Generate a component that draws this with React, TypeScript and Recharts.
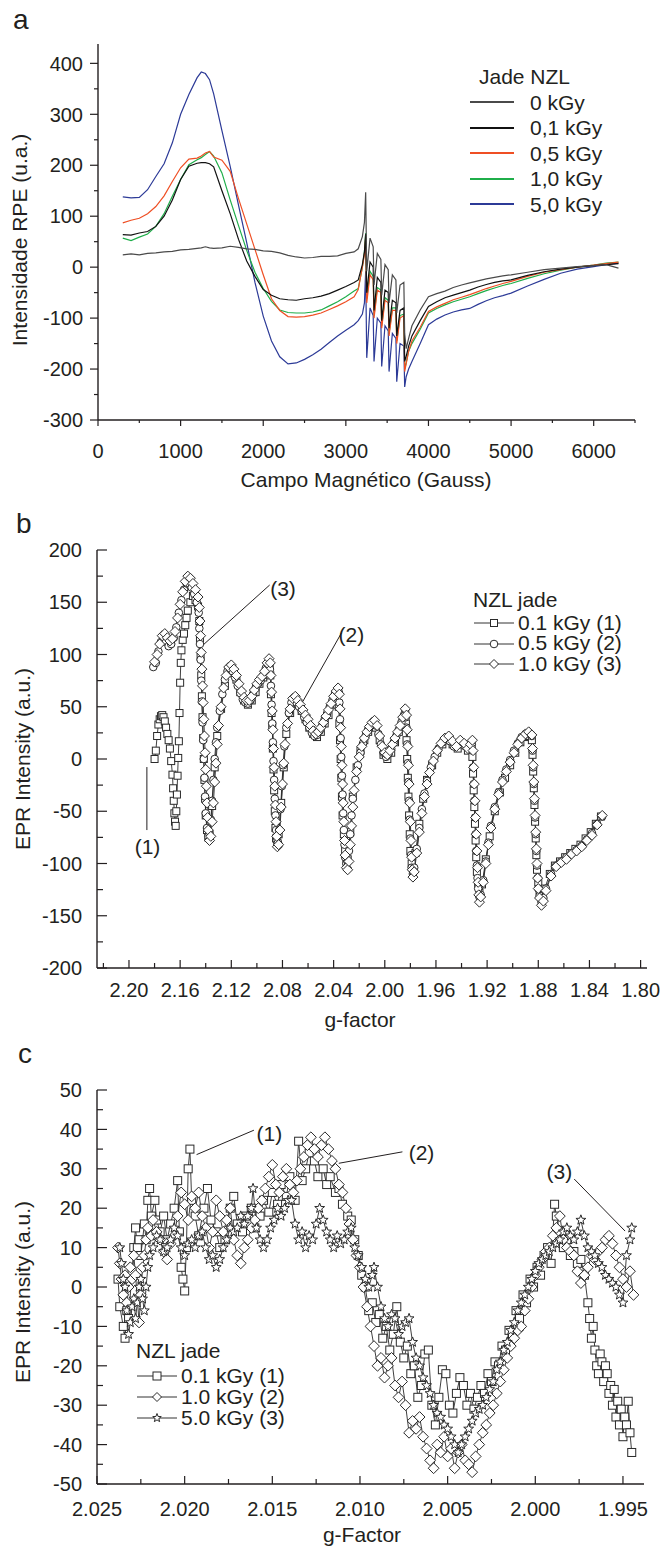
import React from "react";
import { LineChart, Line, XAxis, YAxis, ReferenceLine, ReferenceDot, Legend } from "recharts";

const FONT = '"Liberation Sans", Arial, Helvetica, sans-serif';
const INK = "#231f20";

// ---------- panel a : EPR spectra vs magnetic field ----------
const gaussA = [
  300, 400, 500, 600, 700, 800, 900, 1000, 1100, 1200, 1250, 1300, 1350, 1400, 1500, 1600, 1700, 1800, 1900, 2000,
  2100, 2200, 2300, 2400, 2500, 2600, 2700, 2800, 2900, 3000, 3100,
  3150, 3200, 3225, 3240, 3253, 3293, 3331, 3341, 3381, 3424, 3434, 3474, 3513, 3523, 3563, 3606, 3616, 3656, 3702,
  3712, 3730, 3760, 3800,
  3900, 4000, 4100, 4200, 4300, 4400, 4500, 4600, 4700, 4800, 4900, 5000, 5200, 5400, 5600, 5800, 6000, 6150, 6300,
];
const rpe0 = [
  24, 26, 24, 27, 28, 30, 31, 34, 35, 37, 38, 40, 38, 37, 38, 41, 39, 36, 35, 32, 31, 28, 23, 20, 18, 19, 21, 21, 22, 27, 30,
  36, 60, 88, 147, -8, 57, 40, -35, 27, 15, -55, 5, -5, -70, -15, -25, -90, -35, -30, -130, -160, -140, -115,
  -84, -58, -52, -47, -40, -35, -31, -27, -23, -20, -17, -15, -10, -5, -2, 1, 3, 5, -2,
];
const rpe01 = [
  64, 63, 67, 70, 80, 100, 132, 172, 198, 204, 205, 205, 203, 197, 150, 105, 55, 12, -18, -44, -55, -62, -64, -65, -62, -60, -57, -52, -45, -38, -30,
  -25, 5, 30, 65, -50, 10, 0, -85, -20, -30, -105, -45, -50, -120, -65, -70, -135, -85, -80, -185, -175, -155, -135,
  -105, -77, -68, -60, -55, -50, -45, -39, -34, -30, -27, -25, -16, -9, -4, 0, 3, 5, 7,
];
const rpe05 = [
  87, 92, 96, 105, 119, 140, 168, 195, 212, 214, 218, 224, 227, 216, 210, 188, 135, 85, 35, -15, -62, -85, -97, -98, -97, -94, -90, -83, -76, -68, -58,
  -44, 0, 25, 58, -70, -15, -25, -100, -45, -50, -120, -65, -70, -135, -85, -85, -150, -100, -95, -205, -190, -165, -145,
  -118, -87, -78, -71, -64, -59, -54, -48, -42, -37, -32, -28, -18, -10, -5, 0, 4, 7, 10,
];
const rpe10 = [
  57, 52, 59, 65, 80, 105, 139, 172, 201, 211, 215, 221, 227, 218, 185, 132, 82, 33, -10, -42, -67, -84, -89, -90, -90, -88, -84, -76, -68, -58, -47,
  -42, 0, 30, 67, -62, -8, -18, -95, -40, -45, -115, -60, -65, -130, -80, -80, -145, -95, -92, -200, -188, -165, -150,
  -122, -90, -81, -74, -68, -63, -58, -52, -46, -41, -36, -32, -22, -13, -6, 0, 4, 8, 10,
];
const rpe50 = [
  138, 136, 137, 152, 178, 203, 244, 300, 339, 372, 383, 380, 368, 340, 268, 198, 122, 48, -30, -96, -145, -176, -190, -188, -181, -172, -161, -148, -135, -124, -113,
  -105, -92, -70, -8, -178, -80, -95, -185, -100, -110, -195, -115, -125, -205, -130, -140, -225, -150, -155, -235, -215, -200, -185,
  -150, -113, -102, -94, -88, -84, -81, -73, -66, -60, -56, -51, -37, -24, -12, -4, 1, 5, 8,
];
const dosesA = [
  { key: "k0", name: "0 kGy", color: "#4a4a4a", vals: rpe0 },
  { key: "k01", name: "0,1 kGy", color: "#111111", vals: rpe01 },
  { key: "k05", name: "0,5 kGy", color: "#ef4f24", vals: rpe05 },
  { key: "k10", name: "1,0 kGy", color: "#1fae4a", vals: rpe10 },
  { key: "k50", name: "5,0 kGy", color: "#2c3a97", vals: rpe50 },
];
const ticksAxMajor = [0, 1000, 2000, 3000, 4000, 5000, 6000];
const ticksAxMinor = [500, 1500, 2500, 3500, 4500, 5500, 6500];
const ticksAyMajor = [-300, -200, -100, 0, 100, 200, 300, 400];
const ticksAyMinor = [-250, -150, -50, 50, 150, 250, 350];

// ---------- panel b : g-factor, wide scan ----------
const nzlB01: [number, number][] = [
  [2.18, 0], [2.179, 8], [2.178, 22], [2.177, 33], [2.176, 38], [2.175, 41], [2.174, 42], [2.173, 40], [2.172, 36], [2.171, 30],
  [2.17, 24], [2.169, 18], [2.168, 10], [2.167, -2], [2.166, -15], [2.1655, -28], [2.165, -40], [2.1645, -52], [2.164, -60], [2.1635, -64],
  [2.163, -50], [2.1625, -34], [2.162, -16], [2.1615, 1], [2.161, 17], [2.1605, 44], [2.16, 73], [2.1595, 92], [2.159, 104], [2.158, 114],
  [2.157, 120], [2.156, 128], [2.155, 135], [2.154, 142], [2.152, 150], [2.15, 156], [2.148, 152], [2.146, 146], [2.145, 132], [2.1445, 115],
  [2.144, 98], [2.1435, 80], [2.143, 60], [2.1425, 40], [2.142, 20], [2.1415, 0], [2.141, -20], [2.1405, -38], [2.14, -54], [2.139, -68],
  [2.138, -75], [2.137, -72], [2.135, -45], [2.133, -8], [2.131, 22], [2.128, 48], [2.125, 70], [2.122, 82], [2.119, 84], [2.116, 76],
  [2.113, 64], [2.11, 56], [2.107, 52], [2.104, 56], [2.101, 64], [2.098, 72], [2.095, 78], [2.092, 86], [2.09, 88], [2.0895, 80],
  [2.089, 62], [2.0885, 44], [2.088, 32], [2.0875, 10], [2.087, -10], [2.0865, -30], [2.086, -50], [2.0855, -66], [2.085, -76], [2.084, -80],
  [2.083, -72], [2.081, -42], [2.079, -8], [2.077, 24], [2.074, 44], [2.071, 54], [2.068, 52], [2.065, 46], [2.062, 38], [2.059, 30],
  [2.056, 24], [2.053, 21], [2.05, 26], [2.047, 34], [2.044, 42], [2.041, 52], [2.038, 60], [2.0365, 64], [2.036, 50], [2.0355, 34],
  [2.035, 18], [2.0345, 0], [2.034, -18], [2.0335, -36], [2.033, -54], [2.032, -72], [2.031, -88], [2.03, -98], [2.029, -96], [2.027, -70],
  [2.025, -36], [2.022, -8], [2.019, 8], [2.016, 18], [2.013, 26], [2.01, 32], [2.007, 30], [2.004, 18], [2.001, 4], [1.998, 0],
  [1.995, 6], [1.992, 16], [1.989, 26], [1.986, 36], [1.984, 44], [1.9835, 34], [1.983, 18], [1.9825, 0], [1.982, -18], [1.9815, -36],
  [1.981, -54], [1.9805, -72], [1.98, -88], [1.979, -100], [1.978, -106], [1.976, -90], [1.973, -62], [1.97, -38], [1.967, -20], [1.963, -6],
  [1.959, 6], [1.955, 14], [1.951, 18], [1.947, 14], [1.943, 10], [1.939, 14], [1.935, 8], [1.932, 12], [1.9315, 2], [1.931, -14],
  [1.9305, -30], [1.93, -46], [1.9295, -62], [1.929, -78], [1.9285, -94], [1.928, -108], [1.927, -120], [1.926, -128], [1.924, -120], [1.921, -96],
  [1.918, -74], [1.914, -50], [1.91, -32], [1.906, -18], [1.902, -6], [1.898, 6], [1.894, 16], [1.89, 21], [1.8875, 22], [1.885, 18],
  [1.8845, 4], [1.884, -12], [1.8835, -28], [1.883, -44], [1.8825, -60], [1.882, -76], [1.8815, -92], [1.881, -106], [1.88, -118], [1.879, -126],
  [1.8775, -132], [1.875, -124], [1.871, -110], [1.867, -102], [1.863, -98], [1.859, -94], [1.855, -90], [1.851, -86], [1.847, -82], [1.843, -76],
  [1.839, -70], [1.835, -62], [1.831, -55],
];
const nzlB05: [number, number][] = [
  [2.181, 88], [2.179, 92], [2.177, 103], [2.175, 112], [2.173, 116], [2.171, 112], [2.169, 108], [2.167, 110], [2.165, 116], [2.163, 126],
  [2.161, 140], [2.159, 152], [2.157, 162], [2.155, 168], [2.153, 168], [2.151, 164], [2.149, 158], [2.147, 150], [2.1455, 140], [2.145, 125],
  [2.1445, 110], [2.144, 95], [2.1435, 75], [2.143, 55], [2.1425, 35], [2.142, 18], [2.1415, 0], [2.141, -18], [2.1405, -36], [2.14, -52],
  [2.139, -66], [2.138, -74], [2.137, -72], [2.136, -58], [2.135, -40], [2.134, -20], [2.133, 0], [2.132, 16], [2.131, 30], [2.129, 46],
  [2.127, 62], [2.125, 76], [2.123, 84], [2.121, 86], [2.119, 84], [2.117, 78], [2.115, 70], [2.113, 63], [2.111, 57], [2.109, 54],
  [2.107, 53], [2.105, 56], [2.103, 62], [2.101, 68], [2.099, 72], [2.097, 75], [2.095, 80], [2.093, 87], [2.091, 90], [2.0898, 86],
  [2.089, 70], [2.0885, 52], [2.088, 34], [2.0875, 16], [2.087, -2], [2.0865, -20], [2.086, -38], [2.0855, -54], [2.085, -68], [2.0845, -78],
  [2.0835, -80], [2.0825, -68], [2.0815, -48], [2.0805, -26], [2.0795, -6], [2.0785, 12], [2.077, 30], [2.075, 44], [2.073, 54], [2.071, 58],
  [2.069, 54], [2.067, 50], [2.065, 46], [2.063, 40], [2.061, 35], [2.059, 30], [2.057, 25], [2.055, 22], [2.053, 23], [2.051, 27],
  [2.049, 32], [2.047, 38], [2.045, 44], [2.043, 50], [2.041, 56], [2.039, 62], [2.037, 66], [2.036, 64], [2.0355, 54], [2.035, 38],
  [2.0345, 20], [2.034, 2], [2.0335, -16], [2.033, -34], [2.0325, -52], [2.032, -68], [2.0315, -82], [2.031, -94], [2.03, -100], [2.029, -98],
  [2.028, -88], [2.027, -72], [2.026, -54], [2.025, -38], [2.023, -20], [2.021, -6], [2.019, 6], [2.017, 15], [2.015, 22], [2.013, 28],
  [2.011, 32], [2.009, 34], [2.007, 32], [2.005, 24], [2.003, 14], [2.001, 6], [1.999, 2], [1.997, 5], [1.995, 10], [1.993, 16],
  [1.991, 22], [1.989, 28], [1.987, 35], [1.985, 42], [1.9835, 40], [1.983, 30], [1.9825, 14], [1.982, -4], [1.9815, -22], [1.981, -40],
  [1.9805, -58], [1.98, -76], [1.9795, -92], [1.979, -104], [1.978, -110], [1.977, -104], [1.975, -86], [1.973, -66], [1.971, -48], [1.969, -33],
  [1.967, -21], [1.964, -8], [1.961, 2], [1.958, 10], [1.955, 16], [1.952, 19], [1.949, 17], [1.946, 12], [1.943, 14], [1.94, 16],
  [1.937, 12], [1.934, 12], [1.932, 16], [1.9315, 8], [1.931, -8], [1.9305, -24], [1.93, -40], [1.9295, -56], [1.929, -72], [1.9285, -88],
  [1.928, -102], [1.9275, -114], [1.927, -124], [1.926, -132], [1.925, -130], [1.923, -116], [1.921, -98], [1.919, -80], [1.917, -64], [1.914, -46],
  [1.911, -32], [1.908, -20], [1.905, -10], [1.902, -1], [1.899, 8], [1.896, 15], [1.893, 21], [1.89, 24], [1.8875, 25], [1.885, 22],
  [1.8845, 8], [1.884, -8], [1.8835, -24], [1.883, -40], [1.8825, -56], [1.882, -72], [1.8815, -88], [1.881, -102], [1.8805, -114], [1.88, -124],
  [1.879, -131], [1.8775, -137], [1.876, -133], [1.874, -124], [1.87, -110], [1.866, -102], [1.862, -98], [1.858, -94], [1.854, -90], [1.85, -87],
  [1.846, -83], [1.842, -77], [1.838, -71], [1.834, -62], [1.83, -55],
];
const nzlB10: [number, number][] = [
  [2.18, 93], [2.178, 100], [2.176, 110], [2.174, 118], [2.172, 120], [2.17, 116], [2.168, 113], [2.166, 115], [2.164, 122], [2.162, 135],
  [2.16, 148], [2.158, 160], [2.156, 170], [2.154, 175], [2.152, 173], [2.15, 168], [2.148, 162], [2.146, 155], [2.145, 145], [2.1445, 132],
  [2.144, 118], [2.1435, 102], [2.143, 86], [2.1425, 70], [2.142, 54], [2.1415, 38], [2.141, 22], [2.1405, 6], [2.14, -10], [2.1395, -26],
  [2.139, -42], [2.1385, -56], [2.138, -68], [2.137, -78], [2.136, -74], [2.135, -60], [2.134, -42], [2.133, -22], [2.132, -4], [2.131, 14],
  [2.13, 32], [2.128, 50], [2.126, 68], [2.124, 80], [2.122, 88], [2.12, 90], [2.118, 86], [2.116, 80], [2.114, 72], [2.112, 65],
  [2.11, 59], [2.108, 56], [2.106, 56], [2.104, 60], [2.102, 66], [2.1, 72], [2.098, 76], [2.096, 79], [2.094, 84], [2.092, 92],
  [2.0905, 96], [2.0895, 92], [2.089, 80], [2.0885, 64], [2.088, 46], [2.0875, 28], [2.087, 10], [2.0865, -8], [2.086, -26], [2.0855, -44],
  [2.085, -60], [2.0845, -74], [2.084, -84], [2.083, -82], [2.082, -68], [2.081, -46], [2.08, -24], [2.079, -4], [2.078, 14], [2.076, 34],
  [2.074, 48], [2.072, 58], [2.07, 60], [2.068, 56], [2.066, 52], [2.064, 47], [2.062, 42], [2.06, 38], [2.058, 32], [2.056, 27],
  [2.054, 24], [2.052, 26], [2.05, 30], [2.048, 35], [2.046, 41], [2.044, 47], [2.042, 53], [2.04, 60], [2.038, 65], [2.0365, 68],
  [2.0355, 62], [2.035, 48], [2.0345, 30], [2.034, 12], [2.0335, -6], [2.033, -24], [2.0325, -42], [2.032, -60], [2.0315, -78], [2.031, -92],
  [2.03, -104], [2.029, -106], [2.028, -98], [2.027, -82], [2.026, -64], [2.025, -46], [2.024, -30], [2.022, -12], [2.02, 2], [2.018, 12],
  [2.016, 20], [2.014, 26], [2.012, 31], [2.01, 35], [2.008, 37], [2.006, 32], [2.004, 22], [2.002, 12], [2.0, 6], [1.998, 4],
  [1.996, 8], [1.994, 14], [1.992, 20], [1.99, 26], [1.988, 32], [1.986, 40], [1.984, 48], [1.983, 42], [1.9825, 28], [1.982, 12],
  [1.9815, -6], [1.981, -24], [1.9805, -42], [1.98, -60], [1.9795, -78], [1.979, -94], [1.9785, -106], [1.978, -113], [1.977, -108], [1.975, -90],
  [1.973, -70], [1.971, -52], [1.969, -36], [1.967, -24], [1.965, -13], [1.962, -2], [1.959, 8], [1.956, 15], [1.953, 20], [1.95, 22],
  [1.947, 17], [1.944, 12], [1.941, 18], [1.938, 15], [1.935, 10], [1.933, 14], [1.9315, 18], [1.931, 8], [1.9305, -8], [1.93, -24],
  [1.9295, -40], [1.929, -56], [1.9285, -72], [1.928, -88], [1.9275, -104], [1.927, -118], [1.9265, -130], [1.926, -137], [1.925, -132], [1.923, -118],
  [1.921, -100], [1.919, -82], [1.917, -66], [1.914, -48], [1.911, -34], [1.908, -22], [1.905, -12], [1.902, -3], [1.899, 6], [1.896, 14],
  [1.893, 20], [1.89, 24], [1.8875, 26], [1.885, 23], [1.8845, 10], [1.884, -6], [1.8835, -22], [1.883, -38], [1.8825, -54], [1.882, -70],
  [1.8815, -86], [1.881, -100], [1.8805, -114], [1.88, -124], [1.879, -133], [1.8775, -140], [1.876, -136], [1.874, -126], [1.87, -112], [1.866, -103],
  [1.862, -99], [1.858, -96], [1.854, -91], [1.85, -88], [1.846, -84], [1.842, -78], [1.838, -73], [1.834, -63], [1.83, -54],
];
const seriesB = [
  { name: "0.1 kGy (1)", pts: nzlB01, kind: "square", r: 3.5 },
  { name: "0.5 kGy (2)", pts: nzlB05, kind: "circle", r: 3.8 },
  { name: "1.0 kGy (3)", pts: nzlB10, kind: "diamond", r: 5 },
];
const ticksBxMajor = [2.2, 2.16, 2.12, 2.08, 2.04, 2.0, 1.96, 1.92, 1.88, 1.84, 1.8];
const ticksBxMinor = [2.22, 2.18, 2.14, 2.1, 2.06, 2.02, 1.98, 1.94, 1.9, 1.86, 1.82];
const ticksByMajor = [-200, -150, -100, -50, 0, 50, 100, 150, 200];
const ticksByMinor = [-175, -125, -75, -25, 25, 75, 125, 175];
const notesB = [
  { text: "(3)", at: [2.0796, 163.3], from: [2.09, 166.5], to: [2.1464, 104.3] },
  { text: "(2)", at: [2.0261, 118.7], from: [2.0339, 120.6], to: [2.0642, 54.8] },
  { text: "(1)", at: [2.1855, -84.2], from: [2.186, -7.7], to: [2.186, -68] },
];

// ---------- panel c : g-factor, narrow scan ----------
const nzlC01: [number, number][] = [
  [2.0238, 2], [2.0237, -5], [2.0235, -10], [2.0234, -13], [2.0233, -6], [2.0232, -8], [2.023, 4], [2.0229, 10], [2.0228, 15], [2.0227, 10],
  [2.0226, 12], [2.0225, 8], [2.0223, 16], [2.0222, 12], [2.0221, 22], [2.022, 25], [2.0219, 18], [2.0217, 22], [2.0216, 17], [2.0214, 14],
  [2.0212, 18], [2.021, 12], [2.0208, 16], [2.0206, 20], [2.0204, 27], [2.0203, 14], [2.0202, 5], [2.0201, 2], [2.02, -1], [2.0199, 10],
  [2.0198, 30], [2.0197, 35], [2.0196, 22], [2.0194, 18], [2.0192, 13], [2.0189, 20], [2.0187, 25], [2.0185, 17], [2.0182, 14], [2.018, 10],
  [2.0177, 12], [2.0174, 20], [2.0172, 23], [2.017, 16], [2.0167, 14], [2.0165, 18], [2.0162, 20], [2.016, 15], [2.0157, 18], [2.0155, 22],
  [2.0152, 19], [2.015, 24], [2.0147, 21], [2.0145, 26], [2.0142, 23], [2.014, 28], [2.0137, 22], [2.0135, 37], [2.0133, 27], [2.0131, 30],
  [2.0129, 34], [2.0126, 32], [2.0124, 28], [2.0121, 30], [2.0119, 26], [2.0117, 28], [2.0114, 24], [2.0112, 25], [2.011, 21], [2.0107, 18],
  [2.0105, 17], [2.0103, 12], [2.0101, 8], [2.0099, 3], [2.0097, 0], [2.0095, -6], [2.0093, -4], [2.0091, -9], [2.0089, -7], [2.0087, -13],
  [2.0085, -10], [2.0083, -16], [2.0081, -12], [2.0079, -5], [2.0077, -14], [2.0075, -18], [2.0073, -15], [2.0071, -22], [2.0069, -20], [2.0067, -28],
  [2.0065, -25], [2.0063, -17], [2.0061, -16], [2.0059, -30], [2.0057, -35], [2.0055, -28], [2.0053, -21], [2.0051, -22], [2.0049, -30], [2.0047, -32],
  [2.0045, -27], [2.0043, -23], [2.0041, -25], [2.0039, -30], [2.0037, -27], [2.0035, -31], [2.0033, -28], [2.0031, -25], [2.0029, -27], [2.0027, -22],
  [2.0025, -24], [2.0023, -19], [2.0021, -20], [2.0019, -15], [2.0017, -16], [2.0015, -11], [2.0013, -12], [2.0011, -6], [2.0009, -8], [2.0007, -2],
  [2.0005, -4], [2.0003, 2], [2.0001, 0], [1.9999, 5], [1.9997, 3], [1.9995, 8], [1.9993, 10], [1.9991, 6], [1.9989, 21], [1.9988, 18],
  [1.9986, 14], [1.9984, 10], [1.9982, 12], [1.998, 8], [1.9978, 9], [1.9976, 6], [1.9974, 7], [1.9972, 3], [1.997, -4], [1.9969, -8],
  [1.9968, -13], [1.9967, -10], [1.9966, -16], [1.9965, -20], [1.9964, -22], [1.9963, -17], [1.9962, -19], [1.9961, -24], [1.996, -20], [1.9959, -22],
  [1.9958, -27], [1.9957, -25], [1.9956, -30], [1.9955, -26], [1.9954, -33], [1.9953, -29], [1.9952, -35], [1.9951, -31], [1.995, -38], [1.9949, -33],
  [1.9948, -35], [1.9947, -29], [1.9946, -37], [1.9945, -42],
];
const nzlC10: [number, number][] = [
  [2.0238, 10], [2.0237, 6], [2.0236, 2], [2.0235, -2], [2.0234, 3], [2.0233, -4], [2.0232, 0], [2.0231, 5], [2.023, 2], [2.0229, 8],
  [2.0228, 3], [2.0227, -3], [2.0226, -9], [2.0225, -2], [2.0224, 5], [2.0223, 8], [2.0222, 12], [2.0221, 15], [2.0219, 13], [2.0218, 17],
  [2.0216, 14], [2.0214, 12], [2.0212, 9], [2.021, 7], [2.0208, 11], [2.0206, 13], [2.0204, 18], [2.0202, 24], [2.02, 21], [2.0198, 17],
  [2.0196, 23], [2.0194, 20], [2.0192, 24], [2.019, 18], [2.0188, 15], [2.0186, 10], [2.0184, 14], [2.0182, 22], [2.018, 18], [2.0178, 14],
  [2.0176, 17], [2.0174, 20], [2.0172, 12], [2.017, 8], [2.0168, 6], [2.0166, 10], [2.0164, 12], [2.0162, 15], [2.016, 17], [2.0158, 20],
  [2.0156, 22], [2.0154, 25], [2.0152, 28], [2.015, 31], [2.0148, 26], [2.0146, 24], [2.0144, 28], [2.0142, 30], [2.014, 26], [2.0138, 24],
  [2.0136, 27], [2.0134, 30], [2.0132, 33], [2.013, 36], [2.0128, 38], [2.0126, 35], [2.0124, 33], [2.0122, 36], [2.012, 38], [2.0118, 35],
  [2.0116, 32], [2.0114, 30], [2.0112, 26], [2.011, 24], [2.0108, 20], [2.0106, 16], [2.0104, 12], [2.0102, 8], [2.01, 5], [2.0098, 0],
  [2.0096, -5], [2.0094, -10], [2.0092, -15], [2.009, -20], [2.0088, -18], [2.0086, -23], [2.0084, -20], [2.0082, -18], [2.008, -25], [2.0078, -28],
  [2.0076, -24], [2.0074, -30], [2.0072, -37], [2.007, -34], [2.0068, -36], [2.0066, -33], [2.0064, -38], [2.0062, -41], [2.006, -44], [2.0058, -46],
  [2.0056, -40], [2.0054, -42], [2.0052, -38], [2.005, -43], [2.0048, -41], [2.0046, -46], [2.0044, -42], [2.0042, -40], [2.004, -44], [2.0038, -45],
  [2.0036, -47], [2.0034, -43], [2.0032, -40], [2.003, -37], [2.0028, -35], [2.0026, -32], [2.0024, -30], [2.0022, -27], [2.002, -24], [2.0018, -21],
  [2.0016, -18], [2.0014, -15], [2.0012, -13], [2.001, -11], [2.0008, -10], [2.0006, -6], [2.0004, -3], [2.0002, 0], [2.0, 3], [1.9998, 5],
  [1.9996, 7], [1.9994, 9], [1.9992, 10], [1.999, 13], [1.9988, 15], [1.9986, 18], [1.9984, 12], [1.9982, 10], [1.998, 9], [1.9978, 8],
  [1.9976, 4], [1.9974, 1], [1.9972, 3], [1.997, 5], [1.9968, 8], [1.9966, 7], [1.9964, 9], [1.9962, 10], [1.996, 12], [1.9958, 13],
  [1.9956, 11], [1.9954, 8], [1.9952, 5], [1.995, 2], [1.9948, 0], [1.9946, 4], [1.9944, -2],
];
const nzlC50: [number, number][] = [
  [2.0237, 10], [2.0236, 6], [2.0235, 2], [2.0234, 0], [2.0233, -6], [2.0232, -12], [2.0231, -9], [2.023, -5], [2.0229, -3], [2.0228, -8],
  [2.0227, -4], [2.0226, 0], [2.0225, 2], [2.0224, -3], [2.0223, -6], [2.0222, 0], [2.0221, 5], [2.022, 8], [2.0218, 10], [2.0216, 13],
  [2.0214, 12], [2.0212, 9], [2.021, 10], [2.0208, 12], [2.0206, 15], [2.0204, 13], [2.0202, 10], [2.02, 8], [2.0198, 11], [2.0196, 12],
  [2.0194, 10], [2.0192, 13], [2.019, 14], [2.0188, 10], [2.0186, 7], [2.0184, 8], [2.0182, 5], [2.018, 7], [2.0178, 10], [2.0176, 12],
  [2.0174, 15], [2.0172, 14], [2.017, 15], [2.0168, 18], [2.0166, 16], [2.0164, 18], [2.0162, 20], [2.0161, 25], [2.0159, 15], [2.0157, 12],
  [2.0155, 10], [2.0153, 12], [2.0151, 15], [2.0149, 17], [2.0147, 20], [2.0145, 18], [2.0143, 20], [2.0141, 22], [2.0139, 22], [2.0137, 16],
  [2.0135, 12], [2.0133, 14], [2.0131, 10], [2.0129, 13], [2.0127, 12], [2.0125, 16], [2.0123, 20], [2.0121, 17], [2.0119, 14], [2.0117, 12],
  [2.0115, 10], [2.0113, 13], [2.0111, 11], [2.0109, 12], [2.0107, 14], [2.0105, 15], [2.0103, 10], [2.0101, 8], [2.0099, 5], [2.0097, 2],
  [2.0095, 0], [2.0093, 3], [2.0092, 5], [2.009, 0], [2.0088, -5], [2.0086, -8], [2.0084, -10], [2.0082, -7], [2.008, -8], [2.0078, -12],
  [2.0076, -10], [2.0074, -9], [2.0072, -8], [2.007, -14], [2.0068, -18], [2.0066, -20], [2.0064, -23], [2.0062, -25], [2.006, -27], [2.0058, -30],
  [2.0056, -32], [2.0054, -33], [2.0052, -35], [2.005, -36], [2.0048, -38], [2.0046, -40], [2.0044, -42], [2.0042, -40], [2.004, -38], [2.0038, -36],
  [2.0036, -34], [2.0034, -32], [2.0032, -31], [2.003, -30], [2.0028, -28], [2.0026, -26], [2.0024, -24], [2.0022, -21], [2.002, -19], [2.0018, -16],
  [2.0016, -14], [2.0014, -11], [2.0012, -9], [2.001, -6], [2.0008, -4], [2.0006, -2], [2.0004, 0], [2.0002, 2], [2.0, 4], [1.9998, 6],
  [1.9996, 7], [1.9994, 8], [1.9992, 9], [1.999, 10], [1.9988, 11], [1.9986, 12], [1.9984, 14], [1.9982, 15], [1.998, 13], [1.9978, 12],
  [1.9976, 14], [1.9974, 17], [1.9972, 13], [1.997, 10], [1.9968, 9], [1.9966, 8], [1.9964, 6], [1.9962, 5], [1.996, 3], [1.9958, 2],
  [1.9956, 1], [1.9954, 0], [1.9952, -2], [1.995, -4], [1.9948, 8], [1.9946, 12], [1.9945, 15],
];
const seriesC = [
  { name: "0.1 kGy (1)", pts: nzlC01, kind: "square", r: 4 },
  { name: "1.0 kGy (2)", pts: nzlC10, kind: "diamond", r: 5.4 },
  { name: "5.0 kGy (3)", pts: nzlC50, kind: "star", r: 5.2 },
];
const ticksCxMajor = [2.025, 2.02, 2.015, 2.01, 2.005, 2.0, 1.995];
const ticksCxMinor = [2.0225, 2.0175, 2.0125, 2.0075, 2.0025, 1.9975];
const ticksCyMajor = [-50, -40, -30, -20, -10, 0, 10, 20, 30, 40, 50];
const ticksCyMinor = [-45, -35, -25, -15, -5, 5, 15, 25, 35, 45];
const notesC = [
  { text: "(1)", at: [2.01517, 38.9], from: [2.01605, 39.8], to: [2.01932, 33.6] },
  { text: "(2)", at: [2.00649, 34.1], from: [2.00758, 34.3], to: [2.01121, 31.4] },
  { text: "(3)", at: [1.99863, 29.2], from: [1.99778, 27.4], to: [1.99488, 14.2] },
];

// ---------- helpers ----------
type Side = "left" | "right" | "top" | "bottom";
type TickOpt = { side: Side; major: number[]; inward: boolean; majLen: number; minLen: number; digits?: number; gap?: number };

const makeTick = (o: TickOpt) => (p: any) => {
  const v = Number(p.payload?.value);
  const x = Number(p.x);
  const y = Number(p.y);
  const isMajor = o.major.some((m) => Math.abs(m - v) < 1e-7);
  const len = isMajor ? o.majLen : o.minLen;
  const s = o.inward ? 1 : -1;
  let x2 = x;
  let y2 = y;
  if (o.side === "bottom") y2 = y - s * len;
  if (o.side === "top") y2 = y + s * len;
  if (o.side === "left") x2 = x + s * len;
  if (o.side === "right") x2 = x - s * len;
  const label = isMajor && o.digits !== undefined ? v.toFixed(o.digits) : null;
  const tp = { fontFamily: FONT, fontSize: 20, fill: INK, stroke: "none" };
  return (
    <g>
      <line x1={x} y1={y} x2={x2} y2={y2} stroke={INK} strokeWidth={1.2} />
      {label && o.side === "bottom" && (
        <text x={x} y={y + (o.gap || 0) + 7.2} textAnchor="middle" {...tp}>{label}</text>
      )}
      {label && o.side === "left" && (
        <text x={x - (o.gap || 0)} y={y + 7.2} textAnchor="end" {...tp}>{label}</text>
      )}
    </g>
  );
};

const mark = (kind: string, cx: number, cy: number, r: number, key?: any) => {
  const st = { fill: "#fff", stroke: "#2a2a2a", strokeWidth: 1 };
  if (kind === "square") return <rect key={key} x={cx - r} y={cy - r} width={2 * r} height={2 * r} {...st} />;
  if (kind === "circle") return <circle key={key} cx={cx} cy={cy} r={r} {...st} />;
  if (kind === "diamond")
    return <path key={key} d={`M${cx},${cy - r}L${cx + r},${cy}L${cx},${cy + r}L${cx - r},${cy}Z`} {...st} />;
  let d = "";
  for (let i = 0; i < 10; i++) {
    const rad = i % 2 === 0 ? r : r * 0.42;
    const a = -Math.PI / 2 + (i * Math.PI) / 5;
    d += (i ? "L" : "M") + (cx + rad * Math.cos(a)).toFixed(2) + "," + (cy + rad * Math.sin(a)).toFixed(2);
  }
  return <path key={key} d={d + "Z"} {...st} />;
};

const axisLine = { stroke: INK, strokeWidth: 1.4 };

const frameAxes = (
  xDom: number[], xMaj: number[], xMin: number[], xDigits: number, xGap: number, xH: number, reversed: boolean,
  yDom: number[], yMaj: number[], yMin: number[], yW: number, inwardLB: boolean,
  lenLB: [number, number], lenTR: [number, number],
) => {
  const xt = [...xMaj, ...xMin].sort((a, b) => a - b);
  const yt = [...yMaj, ...yMin].sort((a, b) => a - b);
  const common = { type: "number" as const, allowDataOverflow: true, interval: 0 as const, tickLine: false, tickSize: 0, tickMargin: 0, axisLine };
  return [
    <XAxis key="xb" xAxisId="b" dataKey="g" domain={xDom} ticks={xt} reversed={reversed} height={xH} {...common}
      tick={makeTick({ side: "bottom", major: xMaj, inward: inwardLB, majLen: lenLB[0], minLen: lenLB[1], digits: xDigits, gap: xGap })} />,
    <XAxis key="xt" xAxisId="t" orientation="top" dataKey="g" domain={xDom} ticks={xt} reversed={reversed} height={0} {...common}
      tick={makeTick({ side: "top", major: xMaj, inward: true, majLen: lenTR[0], minLen: lenTR[1] })} />,
    <YAxis key="yl" yAxisId="l" domain={yDom} ticks={yt} width={yW} {...common}
      tick={makeTick({ side: "left", major: yMaj, inward: inwardLB, majLen: lenLB[0] + 2, minLen: lenLB[1] + 1, digits: 0, gap: 15 })} />,
    <YAxis key="yr" yAxisId="r" orientation="right" domain={yDom} ticks={yt} width={0} {...common}
      tick={makeTick({ side: "right", major: yMaj, inward: true, majLen: lenTR[0], minLen: lenTR[1] })} />,
  ];
};

const legendA = () => (
  <div style={{ fontFamily: FONT, fontSize: 21, color: INK, lineHeight: "25.5px" }}>
    <div style={{ paddingLeft: 9 }}>Jade NZL</div>
    {dosesA.map((d) => (
      <div key={d.key} style={{ display: "flex", alignItems: "center", height: 25.5 }}>
        <svg width={44} height={10}>
          <line x1={0} x2={44} y1={5} y2={5} stroke={d.color} strokeWidth={2} />
        </svg>
        <span style={{ marginLeft: 16 }}>{d.name}</span>
      </div>
    ))}
  </div>
);

const symbolLegend = (items: { name: string; kind: string; r: number }[], titleH: number) => () => (
  <div style={{ fontFamily: FONT, fontSize: 21, color: INK, lineHeight: "20.8px" }}>
    <div style={{ height: titleH, lineHeight: `${titleH}px` }}>NZL jade</div>
    {items.map((s) => (
      <div key={s.name} style={{ display: "flex", alignItems: "center", height: 20.8 }}>
        <svg width={42} height={14}>
          <line x1={1} x2={41} y1={7} y2={7} stroke="#333" strokeWidth={1} />
          {mark(s.kind, 21, 7, Math.min(s.r, 4.5))}
        </svg>
        <span style={{ marginLeft: 3 }}>{s.name}</span>
      </div>
    ))}
  </div>
);

const notes = (list: { text: string; at: number[]; from: number[]; to: number[] }[]) =>
  list.flatMap((n, i) => [
    <ReferenceLine key={`nl${i}`} xAxisId="b" yAxisId="l" stroke={INK} strokeWidth={1}
      segment={[{ x: n.from[0], y: n.from[1] }, { x: n.to[0], y: n.to[1] }]} />,
    <ReferenceDot key={`nt${i}`} xAxisId="b" yAxisId="l" x={n.at[0]} y={n.at[1]} r={0} fill="none" stroke="none"
      label={{ value: n.text, position: "center", fontSize: 21, fill: INK, fontFamily: FONT }} />,
  ]);

const rowsA = gaussA.map((g, i) => {
  const row: Record<string, number> = { g };
  dosesA.forEach((d) => (row[d.key] = d.vals[i]));
  return row;
});

const App = () => {
  const title = { fontFamily: FONT, fontSize: 21, fill: INK };
  return (
    <div style={{ position: "absolute", left: 0, top: 0, width: 665, height: 1549, background: "#fff" }}>
      {/* panel a */}
      <div style={{ position: "absolute", left: 0, top: 0 }}>
        <LineChart width={665} height={470} data={rowsA} margin={{ top: 44, right: 30, bottom: 0, left: 0 }}>
          {frameAxes([0, 6500], ticksAxMajor, ticksAxMinor, 0, 31, 50, false,
            [-300, 438], ticksAyMajor, ticksAyMinor, 98, false, [6, 3], [7.5, 4.5])}
          {[...dosesA].reverse().map((d) => (
            <Line key={d.key} xAxisId="b" yAxisId="l" dataKey={d.key} name={d.name} type="linear" stroke={d.color}
              strokeWidth={1.2} dot={false} activeDot={false} isAnimationActive={false} />
          ))}
          <Legend content={legendA} layout="horizontal" verticalAlign="middle" align="center"
            wrapperStyle={{ left: 470, top: 64, width: 160 }} />
        </LineChart>
      </div>

      {/* panel b */}
      <div style={{ position: "absolute", left: 0, top: 490 }}>
        <LineChart width={665} height={530} margin={{ top: 60, right: 18, bottom: 0, left: 0 }}>
          {frameAxes([1.795, 2.225], ticksBxMajor, ticksBxMinor, 2, 22, 52, true,
            [-200, 200], ticksByMajor, ticksByMinor, 97, true, [8, 5], [8, 5])}
          {seriesB.map((s) => (
            <Line key={s.name} xAxisId="b" yAxisId="l" data={s.pts.map(([g, v]) => ({ g, v }))} dataKey="v" name={s.name}
              type="linear" stroke="#2a2a2a" strokeWidth={0.9} activeDot={false} isAnimationActive={false}
              dot={(p: any) => mark(s.kind, p.cx, p.cy, s.r, p.index)} />
          ))}
          {notes(notesB)}
          <Legend content={symbolLegend(seriesB, 26)} layout="horizontal" verticalAlign="middle" align="center"
            wrapperStyle={{ left: 473, top: 96.5, width: 170 }} />
        </LineChart>
      </div>

      {/* panel c */}
      <div style={{ position: "absolute", left: 0, top: 1030 }}>
        <LineChart width={665} height={519} margin={{ top: 60, right: 21, bottom: 0, left: 0 }}>
          {frameAxes([1.9938, 2.025], ticksCxMajor, ticksCxMinor, 3, 25, 65, true,
            [-50, 50], ticksCyMajor, ticksCyMinor, 97, true, [8, 5], [8, 5])}
          {seriesC.map((s) => (
            <Line key={s.name} xAxisId="b" yAxisId="l" data={s.pts.map(([g, v]) => ({ g, v }))} dataKey="v" name={s.name}
              type="linear" stroke="#2a2a2a" strokeWidth={0.9} activeDot={false} isAnimationActive={false}
              dot={(p: any) => mark(s.kind, p.cx, p.cy, s.r, p.index)} />
          ))}
          {notes(notesC)}
          <Legend content={symbolLegend(seriesC, 30)} layout="horizontal" verticalAlign="middle" align="center"
            wrapperStyle={{ left: 136, top: 306, width: 170 }} />
        </LineChart>
      </div>

      {/* panel letters and axis titles */}
      <svg width={665} height={1549} style={{ position: "absolute", left: 0, top: 0, pointerEvents: "none" }}>
        <text x={13} y={28.5} fontFamily={FONT} fontSize={28} fill={INK}>a</text>
        <text x={16} y={533} fontFamily={FONT} fontSize={28} fill={INK}>b</text>
        <text x={18} y={1063} fontFamily={FONT} fontSize={28} fill={INK}>c</text>

        <text x={366} y={486.5} textAnchor="middle" {...title}>Campo Magnético (Gauss)</text>
        <text transform="translate(20.5,240) rotate(-90)" y={6.5} textAnchor="middle" {...title}>Intensidade RPE (u.a.)</text>

        <text x={360} y={1026.5} textAnchor="middle" {...title}>g-factor</text>
        <text transform="translate(23,759) rotate(-90)" y={6.5} textAnchor="middle" {...title}>EPR Intensity (a.u.)</text>

        <text x={362} y={1542} textAnchor="middle" {...title}>g-Factor</text>
        <text transform="translate(23,1292) rotate(-90)" y={6.5} textAnchor="middle" {...title}>EPR Intensity (a.u.)</text>
      </svg>
    </div>
  );
};

export default App;
